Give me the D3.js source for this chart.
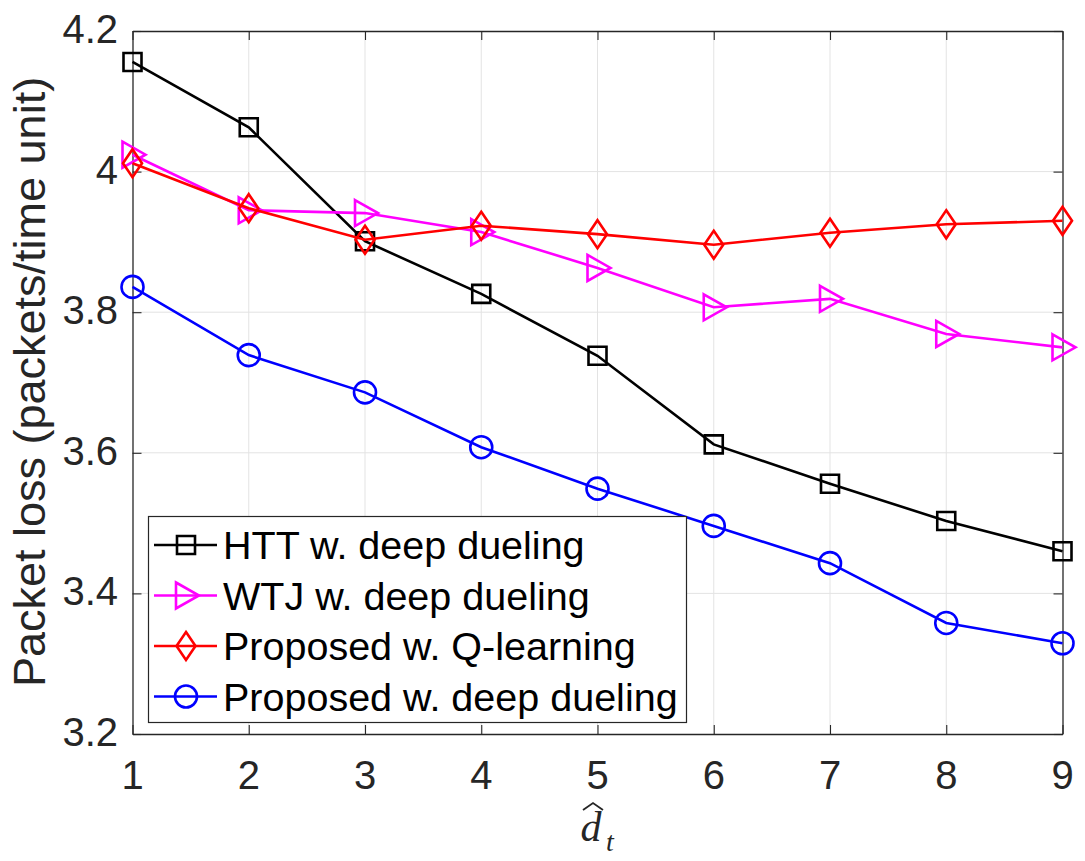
<!DOCTYPE html>
<html>
<head>
<meta charset="utf-8">
<style>
  body { margin: 0; background: #fff; }
  svg { display: block; font-family: "Liberation Sans", Arial, Helvetica, sans-serif; }
  .grid line { stroke: #e3e3e3; stroke-width: 1px; }
  .tick-label { font-size: 40px; fill: #262626; }
  .series path { fill: none; stroke-width: 2.6px; }
  .legend text { font-size: 39.5px; fill: #000; }
</style>
</head>
<body>
<script src="https://cdn.jsdelivr.net/npm/d3@7"></script>
<script>
// values
var xValues = [1, 2, 3, 4, 5, 6, 7, 8, 9];
var httDeep = [4.156, 4.063, 3.901, 3.826, 3.738, 3.612, 3.556, 3.503, 3.460];
var wtjDeep = [4.024, 3.945, 3.941, 3.914, 3.863, 3.807, 3.819, 3.769, 3.750];
var propQ = [4.012, 3.948, 3.903, 3.923, 3.911, 3.896, 3.913, 3.925, 3.930];
var propDeep = [3.836, 3.739, 3.686, 3.608, 3.549, 3.496, 3.443, 3.358, 3.329];
var yTicks = [3.2, 3.4, 3.6, 3.8, 4, 4.2];
var yTickLabels = ["3.2", "3.4", "3.6", "3.8", "4", "4.2"];
var seriesNames = ["HTT w. deep dueling", "WTJ w. deep dueling", "Proposed w. Q-learning", "Proposed w. deep dueling"];
var seriesColors = ["#000000", "#ff00ff", "#ff0000", "#0000ff"];
var seriesMarkers = ["square", "triangle", "diamond", "circle"];

var W = 1085, H = 861;
var plotL = 132.5, plotR = 1062.5, plotT = 31, plotB = 734;

var svg = d3.select("body").append("svg")
    .attr("width", W)
    .attr("height", H);

var x = d3.scaleLinear().domain([1, 9]).range([plotL, plotR]);
var y = d3.scaleLinear().domain([3.2, 4.2]).range([plotB, plotT]);

// grid
var grid = svg.append("g").attr("class", "grid");
grid.selectAll(".gx").data(xValues.slice(1, -1)).enter().append("line")
    .attr("x1", function(d) { return x(d); }).attr("x2", function(d) { return x(d); })
    .attr("y1", plotT).attr("y2", plotB);
grid.selectAll(".gy").data(yTicks.slice(1, -1)).enter().append("line")
    .attr("y1", function(d) { return y(d); }).attr("y2", function(d) { return y(d); })
    .attr("x1", plotL).attr("x2", plotR);

// axes (box with inward ticks)
var xAxisB = d3.axisBottom(x).tickValues(xValues).tickSize(-9).tickSizeOuter(0).tickFormat("");
var xAxisT = d3.axisTop(x).tickValues(xValues).tickSize(-9).tickSizeOuter(0).tickFormat("");
var yAxisL = d3.axisLeft(y).tickValues(yTicks).tickSize(-9).tickSizeOuter(0).tickFormat("");
var yAxisR = d3.axisRight(y).tickValues(yTicks).tickSize(-9).tickSizeOuter(0).tickFormat("");

function styleAxis(g) {
  g.selectAll("path").attr("stroke", "#262626").attr("stroke-width", 1.3);
  g.selectAll("line").attr("stroke", "#262626").attr("stroke-width", 1.1);
}
svg.append("g").attr("transform", "translate(0," + plotB + ")").call(xAxisB).call(styleAxis);
svg.append("g").attr("transform", "translate(0," + plotT + ")").call(xAxisT).call(styleAxis);
svg.append("g").attr("transform", "translate(" + plotL + ",0)").call(yAxisL).call(styleAxis);
svg.append("g").attr("transform", "translate(" + plotR + ",0)").call(yAxisR).call(styleAxis);

// tick labels
svg.selectAll(".xl").data(xValues).enter().append("text")
    .attr("class", "tick-label")
    .attr("x", function(d) { return x(d); })
    .attr("y", 789)
    .attr("text-anchor", "middle")
    .text(function(d) { return d; });
svg.selectAll(".yl").data(yTicks).enter().append("text")
    .attr("class", "tick-label")
    .attr("x", 118)
    .attr("y", function(d) { return y(d) + 12; })
    .attr("text-anchor", "end")
    .text(function(d, i) { return yTickLabels[i]; });

// axis titles
svg.append("text")
    .attr("transform", "translate(45," + 382 + ") rotate(-90)")
    .attr("text-anchor", "middle")
    .style("font-size", "45px")
    .style("fill", "#262626")
    .text("Packet loss (packets/time unit)");

var xt = svg.append("g").attr("transform", "translate(593,0)");
xt.append("text")
    .attr("x", -2).attr("y", 841)
    .attr("text-anchor", "middle")
    .style("font-family", "'Liberation Serif', 'DejaVu Serif', serif")
    .style("font-style", "italic")
    .style("font-size", "42px")
    .style("fill", "#262626")
    .text("d");
xt.append("text")
    .attr("x", 17).attr("y", 851)
    .attr("text-anchor", "middle")
    .style("font-family", "'Liberation Serif', 'DejaVu Serif', serif")
    .style("font-style", "italic")
    .style("font-size", "28px")
    .style("fill", "#262626")
    .text("t");
xt.append("path")
    .attr("d", "M-10,810 L0,803 L10,810")
    .attr("fill", "none")
    .attr("stroke", "#262626")
    .attr("stroke-width", 1.8);

// markers
function markerPath(kind) {
  if (kind === "square") return "M-9,-9H9V9H-9Z";
  if (kind === "triangle") return "M-10,-13L13,0L-10,13Z";
  if (kind === "diamond") return "M0,-14L9.5,0L0,14L-9.5,0Z";
  return d3.arc()({innerRadius: 0, outerRadius: 11, startAngle: 0, endAngle: 2 * Math.PI});
}

var allSeries = [httDeep, wtjDeep, propQ, propDeep];
var line = d3.line()
    .x(function(d, i) { return x(xValues[i]); })
    .y(function(d) { return y(d); });

allSeries.forEach(function(vals, s) {
  var g = svg.append("g").attr("class", "series");
  g.append("path")
      .attr("d", line(vals))
      .attr("stroke", seriesColors[s]);
  g.selectAll(".m").data(vals).enter().append("path")
      .attr("transform", function(d, i) { return "translate(" + x(xValues[i]) + "," + y(d) + ")"; })
      .attr("d", markerPath(seriesMarkers[s]))
      .attr("fill", "none")
      .attr("stroke", seriesColors[s])
      .attr("stroke-width", 2.6);
});

// legend
var lg = svg.append("g").attr("class", "legend");
lg.append("rect")
    .attr("x", 148.5).attr("y", 516.5)
    .attr("width", 538).attr("height", 206)
    .attr("fill", "#fff")
    .attr("stroke", "#262626")
    .attr("stroke-width", 1.2);
seriesNames.forEach(function(name, s) {
  var cy = 545 + s * 50.5;
  var row = lg.append("g");
  row.append("line")
      .attr("x1", 154).attr("x2", 217).attr("y1", cy).attr("y2", cy)
      .attr("stroke", seriesColors[s]).attr("stroke-width", 2.6);
  row.append("path")
      .attr("transform", "translate(186," + cy + ")")
      .attr("d", markerPath(seriesMarkers[s]))
      .attr("fill", "none")
      .attr("stroke", seriesColors[s])
      .attr("stroke-width", 2.6);
  row.append("text")
      .attr("x", 223).attr("y", cy + 14)
      .text(name);
});
</script>
</body>
</html>
